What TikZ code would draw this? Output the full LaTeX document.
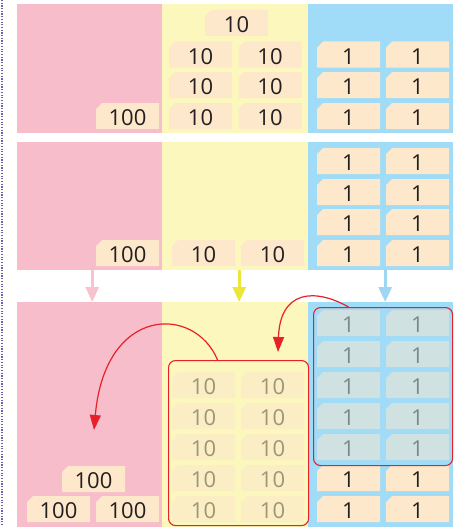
\documentclass[tikz,border=0pt]{standalone}
\usepackage{fontspec}
\newfontfamily\cardfont{Open Sans}
\usetikzlibrary{arrows.meta}
\definecolor{pinkbg}{HTML}{F7BDCA}
\definecolor{yellowbg}{HTML}{FCF7BD}
\definecolor{bluebg}{HTML}{A0DCF7}
\definecolor{cardfill}{HTML}{FDE8CB}
\definecolor{cardtext}{HTML}{231F20}
\definecolor{fadeyfill}{HTML}{FBEEC5}
\definecolor{fadeytext}{HTML}{9B9679}
\definecolor{fadebfill}{HTML}{CFE1E0}
\definecolor{fadebtext}{HTML}{7B8A89}
\definecolor{redline}{HTML}{E62129}
\definecolor{dotpurple}{HTML}{6D5FA8}
\definecolor{pinkarrow}{HTML}{F6C3CF}
\definecolor{yellowarrow}{HTML}{EDE63A}
\definecolor{bluearrow}{HTML}{9FD6F1}
\begin{document}
\begin{tikzpicture}[x=1pt,y=-1pt,
  bgbox/.style={rectangle, inner sep=0pt, draw=none, anchor=north west},
  cardbase/.style={rectangle, minimum width=63pt, minimum height=26pt, inner sep=0pt,
    font=\cardfont\fontsize{22}{22}\selectfont, text height=19pt, text depth=0pt,
    path picture={\fill[#1] (path picture bounding box.south west) -- (path picture bounding box.south east)
      -- (path picture bounding box.north east) -- ([xshift=6pt]path picture bounding box.north west)
      -- ([yshift=-6pt]path picture bounding box.north west) -- cycle;}},
  card/.style={cardbase=cardfill, text=cardtext},
  fadeY/.style={cardbase=fadeyfill, text=fadeytext},
  fadeB/.style={cardbase=fadebfill, text=fadebtext},
  redbox/.style={rectangle, draw=redline, line width=1.1pt, rounded corners=7pt, inner sep=0pt, anchor=north west},
  redarrow/.style={draw=redline, line width=1.2pt, -{Triangle[length=15pt,width=11pt]}},
  downarrow/.style={line width=3pt, -{Triangle[length=15pt,width=13pt]}}
]
\useasboundingbox (0,0) rectangle (453,527);
\draw[dotpurple, line width=1.6pt, dash pattern=on 1.2pt off 1.5pt] (2,0) -- (2,527);
% panel backgrounds
\node[bgbox, fill=pinkbg, minimum width=145pt, minimum height=129pt] (p1pink) at (17,4) {};
\node[bgbox, fill=yellowbg, minimum width=146pt, minimum height=129pt] (p1yel) at (162,4) {};
\node[bgbox, fill=bluebg, minimum width=145pt, minimum height=129pt] (p1blue) at (308,4) {};
\node[bgbox, fill=pinkbg, minimum width=145pt, minimum height=128pt] (p2pink) at (17,142) {};
\node[bgbox, fill=yellowbg, minimum width=146pt, minimum height=128pt] (p2yel) at (162,142) {};
\node[bgbox, fill=bluebg, minimum width=145pt, minimum height=128pt] (p2blue) at (308,142) {};
\node[bgbox, fill=pinkbg, minimum width=145pt, minimum height=225pt] (p3pink) at (17,302) {};
\node[bgbox, fill=yellowbg, minimum width=146pt, minimum height=225pt] (p3yel) at (162,302) {};
\node[bgbox, fill=bluebg, minimum width=145pt, minimum height=225pt] (p3blue) at (308,302) {};
% panel 1
\node[card] (a100) at (127.5,116) {100};
\node[card] (a10top) at (236.5,23) {10};
\foreach \y [count=\r] in {54.5,85,116} {
  \node[card] (a10-\r-1) at (200.5,\y) {10};
  \node[card] (a10-\r-2) at (270,\y) {10};
  \node[card] (a1-\r-1) at (348.5,\y) {1};
  \node[card] (a1-\r-2) at (417.5,\y) {1};
}
% panel 2
\node[card] (b100) at (127.5,253) {100};
\node[card] (b10-1) at (203.5,253) {10};
\node[card] (b10-2) at (272.5,253) {10};
\foreach \y [count=\r] in {161,192,222,253} {
  \node[card] (b1-\r-1) at (348.5,\y) {1};
  \node[card] (b1-\r-2) at (417.5,\y) {1};
}
% panel 3
\node[card] (c100-top) at (93.5,479) {100};
\node[card] (c100-1) at (58.5,509) {100};
\node[card] (c100-2) at (127.5,509) {100};
\foreach \y [count=\r] in {385,416,447,478,509} {
  \node[fadeY] (c10-\r-1) at (203.5,\y) {10};
  \node[fadeY] (c10-\r-2) at (272.5,\y) {10};
}
\foreach \y [count=\r] in {323,354,385,416,447} {
  \node[fadeB] (c1g-\r-1) at (348.5,\y) {1};
  \node[fadeB] (c1g-\r-2) at (417.5,\y) {1};
}
\foreach \y [count=\r] in {478,509} {
  \node[card] (c1-\r-1) at (348.5,\y) {1};
  \node[card] (c1-\r-2) at (417.5,\y) {1};
}
% red groups
\node[redbox, minimum width=140pt, minimum height=165pt] (ybox) at (168,360) {};
\node[redbox, minimum width=139pt, minimum height=158pt] (bbox) at (313,307) {};
% straight arrows between panels 2 and 3
\draw[downarrow, pinkarrow] ([xshift=2.5pt]p2pink.south) -- ([xshift=2.5pt]p3pink.north);
\draw[downarrow, yellowarrow] ([xshift=4pt]p2yel.south) -- ([xshift=4pt]p3yel.north);
\draw[downarrow, bluearrow] ([xshift=4.5pt]p2blue.south) -- ([xshift=4.5pt]p3blue.north);
% red curved arrows
\coordinate (t1) at (278,352);
\coordinate (t2) at (94,430);
\draw[redarrow] ([xshift=-34.5pt]bbox.north) .. controls (315,288) and (280,290) .. (t1);
\draw[redarrow] ([xshift=-21pt]ybox.north) .. controls (195,305) and (105,305) .. (t2);
\end{tikzpicture}
\end{document}
